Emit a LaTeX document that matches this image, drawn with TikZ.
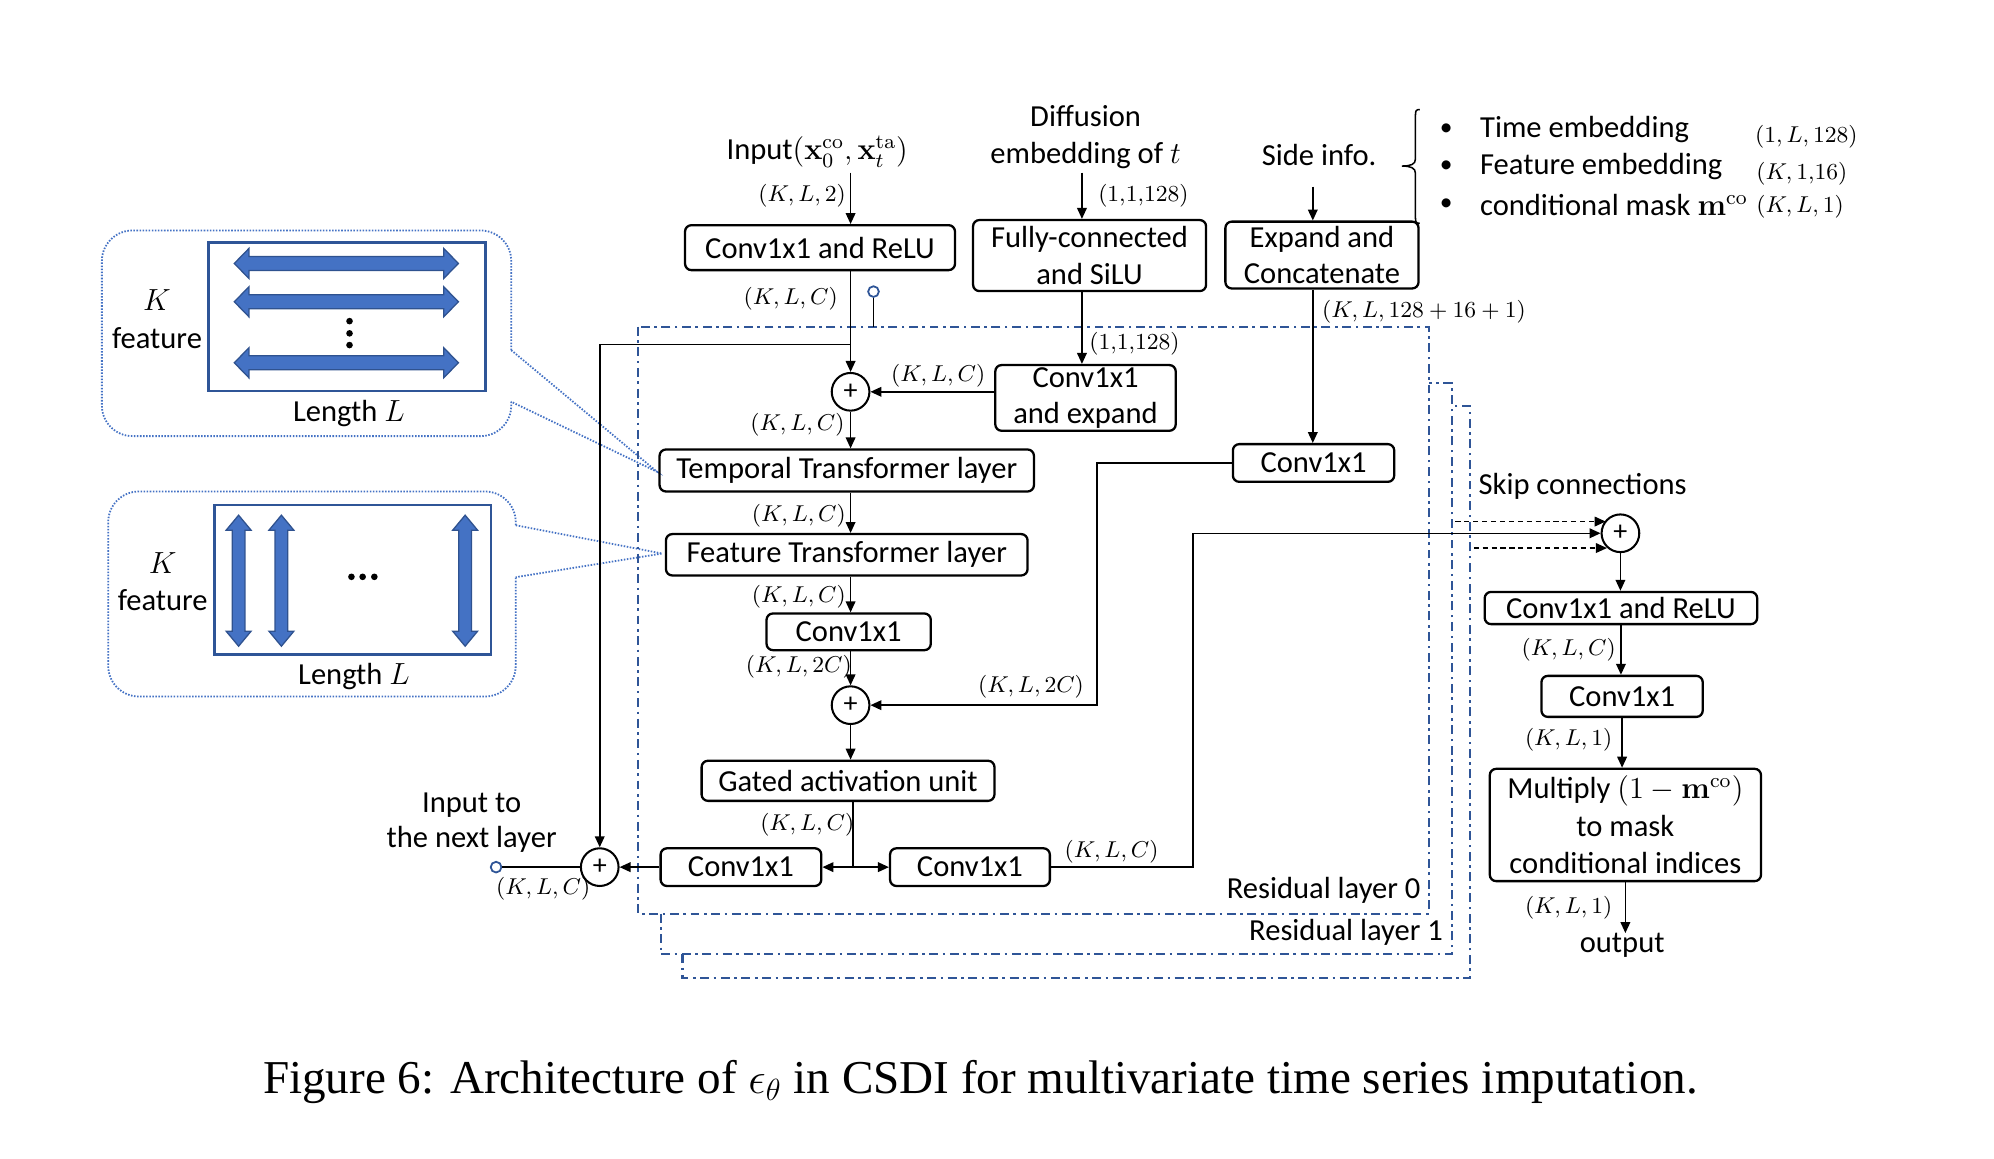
\documentclass[tikz,border=0pt]{standalone}
\usepackage[no-math]{fontspec}
\setmainfont{Carlito}
\newfontfamily\capfont{Liberation Serif}
\usetikzlibrary{arrows.meta}
\definecolor{frameblue}{HTML}{2F5597}
\definecolor{arrfill}{HTML}{4472C4}
\definecolor{arrline}{HTML}{2F528F}
\tikzset{
  box/.style={draw, line width=0.9pt, rounded corners=2.5pt, inner sep=0pt, align=center},
  dim/.style={font=\fontsize{9}{10}\selectfont, inner sep=0pt},
  txt/.style={inner sep=0pt, align=center},
  conn/.style={line width=0.6pt},
  arr/.style={conn, -{Triangle[length=4.3pt,width=3.8pt]}},
  skiparr/.style={line width=0.5pt, dash pattern=on 2pt off 1.5pt, -{Triangle[length=4.3pt,width=3.8pt]}},
  plus/.style={draw, circle, line width=0.8pt, minimum size=14.8pt, inner sep=0pt, font=\fontsize{11}{11}\selectfont},
  rframe/.style={draw=frameblue, line width=0.8pt, dash pattern=on 3.5pt off 1.8pt on 1pt off 1.8pt},
  callout/.style={draw=arrfill, line width=0.7pt, dash pattern=on 0.6pt off 0.6pt},
  innerbox/.style={draw=frameblue, line width=1pt},
  fatarrow/.style={fill=arrfill, draw=arrline, line width=0.5pt},
  port/.style={draw=frameblue, circle, line width=0.7pt, minimum size=4.2pt, inner sep=0pt},
  bullet/.style={inner sep=0pt, font=\fontsize{10}{10}\selectfont}
}
\begin{document}
\begin{tikzpicture}[x=0.5pt, y=-0.5pt, font=\fontsize{12}{14}\selectfont]
\useasboundingbox (0,0) rectangle (1566,910);

% ---------- left panels ----------
\draw[callout, rounded corners=12pt] (401.5,275) -- (401.5,181) -- (80,181) -- (80,342.5) -- (401.5,342.5) -- (401.5,315.5);
\draw[callout] (401.5,275) -- (516,370.5) -- (401.5,315.5);
\draw[innerbox] (163.9,190.4) rectangle (381.2,307.2);
\foreach \c in {206.9,237,284.9}
  \filldraw[fatarrow] (184,\c) -- (195.5,\c-11.8) -- (195.5,\c-5.5) -- (348.5,\c-5.5) -- (348.5,\c-11.8) -- (360,\c) -- (348.5,\c+11.8) -- (348.5,\c+5.5) -- (195.5,\c+5.5) -- (195.5,\c+11.8) -- cycle;
\foreach \d in {252.2,261.8,271} \fill (274.5,\d) circle[radius=1.3pt];
\node[txt] (k1) at (123.3,235.7) {$K$};
\node[txt] (f1) at (123.3,265.5) {feature};
\node[txt] (len1) at (274,325) {Length $L$};

\draw[callout, rounded corners=12pt] (405,412.5) -- (405,386) -- (85,386) -- (85,547) -- (405,547) -- (405,453.3);
\draw[callout] (405,412.5) -- (520,434.7) -- (405,453.3);
\draw[innerbox] (168.4,396.7) rectangle (385.5,514);
\foreach \c in {187.4,221,365.3}
  \filldraw[fatarrow] (\c,404.6) -- (\c+9.8,416.4) -- (\c+5,416.4) -- (\c+5,495.7) -- (\c+9.8,495.7) -- (\c,507.5) -- (\c-9.8,495.7) -- (\c-5,495.7) -- (\c-5,416.4) -- (\c-9.8,416.4) -- cycle;
\foreach \d in {276,284.8,294} \fill (\d,453) circle[radius=1.3pt];
\node[txt] (k2) at (127.8,442.5) {$K$};
\node[txt] (f2) at (127.8,471.3) {feature};
\node[txt] (len2) at (278,531.5) {Length $L$};

% ---------- residual frames ----------
\draw[rframe] (501,256.6) rectangle (1122,717.5);
\draw[rframe] (518.8,717.5) -- (518.8,749.5) -- (1140,749.5) -- (1140,300.6) -- (1122,300.6);
\draw[rframe] (536,749.5) -- (536,768) -- (1154.5,768) -- (1154.5,319) -- (1140,319);
\node[txt, anchor=east] (rl0) at (1116,699) {Residual layer 0};
\node[txt, anchor=east] (rl1) at (1133.6,732) {Residual layer 1};

% ---------- top inputs ----------
\node[txt] (inp) at (641.8,119) {Input$(\mathbf{x}_0^{\mathrm{co}},\mathbf{x}_t^{\mathrm{ta}})$};
\node[txt, font=\fontsize{12}{14.4}\selectfont] (dif) at (852.6,107.4) {Diffusion\\embedding of $t$};
\node[txt] (si) at (1036,122) {Side info.};
\draw[conn] (1115,86) .. controls (1112,86) and (1111.6,87) .. (1111.6,91) -- (1111.6,125) .. controls (1111.6,129) and (1108,130.4) .. (1101,130.4) .. controls (1108,130.4) and (1111.6,132) .. (1111.6,136) -- (1111.6,170.4) .. controls (1111.6,174.4) and (1112,175.4) .. (1115,175.4);
\node[bullet] (bu1) at (1135.7,102.1) {•};
\node[bullet] (bu2) at (1135.7,130.9) {•};
\node[bullet] (bu3) at (1135.7,161) {•};
\node[txt, anchor=west] (it1) at (1162,102.1) {Time embedding};
\node[txt, anchor=west] (it2) at (1162,130.9) {Feature embedding};
\node[txt, anchor=west] (it3) at (1162,161) {conditional mask $\mathbf{m}^{\mathrm{co}}$};
\node[dim, anchor=west] (dd1) at (1378,107.4) {$(1,L,128)$};
\node[dim, anchor=west] (dd2) at (1379,136.2) {$(K,1{,}16)$};
\node[dim, anchor=west] (dd3) at (1379,162.3) {$(K,L,1)$};

% ---------- boxes ----------
\node[box, minimum width=106pt, minimum height=17.65pt] (cr1) at (644,194.5) {Conv1x1 and ReLU};
\node[box, minimum width=91.5pt, minimum height=27.9pt, font=\fontsize{12}{14.2}\selectfont] (fc) at (855.7,200.7) {Fully-connected\\and SiLU};
\node[box, minimum width=75.85pt, minimum height=26.25pt, font=\fontsize{12}{14.2}\selectfont] (ec) at (1038.2,200.3) {Expand and\\Concatenate};
\node[box, minimum width=70.85pt, minimum height=25.8pt, font=\fontsize{12}{14}\selectfont] (ce) at (852.5,312.5) {Conv1x1\\and expand};
\node[box, minimum width=63.35pt, minimum height=14.8pt] (cc) at (1031.6,363.6) {Conv1x1};
\node[box, minimum width=147pt, minimum height=16.5pt] (tt) at (665,369.5) {Temporal Transformer layer};
\node[box, minimum width=142pt, minimum height=16.25pt] (ft) at (665,435.7) {Feature Transformer layer};
\node[box, minimum width=64.5pt, minimum height=14.4pt] (cm) at (666.5,496.2) {Conv1x1};
\node[box, minimum width=115pt, minimum height=15.75pt] (ga) at (666,613.2) {Gated activation unit};
\node[box, minimum width=63.1pt, minimum height=14.8pt] (cl) at (581.9,681) {Conv1x1};
\node[box, minimum width=62.75pt, minimum height=14.8pt] (crb) at (761.75,681) {Conv1x1};
\node[box, minimum width=107pt, minimum height=12.65pt] (crr) at (1273,477.5) {Conv1x1 and ReLU};
\node[box, minimum width=63.35pt, minimum height=16.1pt] (c2) at (1273.9,546.9) {Conv1x1};
\node[box, minimum width=106.5pt, minimum height=44.1pt, font=\fontsize{12}{14.75}\selectfont] (mu) at (1276.5,647.9) {Multiply $(1-\mathbf{m}^{\mathrm{co}})$\\to mask\\conditional indices};

\node[plus] (p1) at (668,307.7) {+};
\node[plus] (p2) at (668,553.8) {+};
\node[plus] (p3) at (471,681) {+};
\node[plus] (p4) at (1272.6,418.8) {+};
\node[port] (o1) at (686,229) {};
\node[port] (o2) at (389.6,681) {};

\node[txt] (nxt) at (370.4,646.2) {Input to\\the next layer};
\node[txt, anchor=west] (skp) at (1160.8,382) {Skip connections};
\node[txt] (out) at (1274,742.7) {output};

% ---------- connectors ----------
\coordinate (dx) at (849.7,135.6);
\coordinate (ix) at (668,135.6);
\coordinate (sx) at (1031,146.6);
\draw[arr] (ix) -- (ix |- cr1.north);
\draw[arr] (dx) -- (dx |- fc.north);
\draw[arr] (sx) -- (sx |- ec.north);
\draw[arr] (p1 |- cr1.south) -- (p1);
\draw[arr] (dx |- fc.south) -- (dx |- ce.north);
\draw[arr] (ce.west |- p1) -- (p1);
\draw[arr] (p1) -- (p1 |- tt.north);
\draw[arr] (p1 |- tt.south) -- (p1 |- ft.north);
\draw[arr] (p1 |- ft.south) -- (p1 |- cm.north);
\draw[arr] (p2 |- cm.south) -- (p2);
\draw[arr] (sx |- ec.south) -- (sx |- cc.north);
\coordinate (cb) at (861.7,363.6);
\draw[arr] (cc.west) -- (cb) |- (p2);
\draw[arr] (p2) -- (p2 |- ga.north);
\coordinate (sp) at (670,681);
\draw[conn] (sp |- ga.south) -- (sp);
\draw[arr] (sp) -- (cl.east);
\draw[arr] (sp) -- (crb.west);
\draw[arr] (cl.west) -- (p3);
\draw[conn] (p3) -- (o2);
\coordinate (br) at (668,270.5);
\draw[arr] (br) -| (p3.north);
\coordinate (o1e) at (686,256.6);
\draw[conn] (o1) -- (o1e);
\coordinate (sk) at (937,681);
\draw[arr] (crb.east) -- (sk) |- (p4);
\coordinate (s1) at (1143,409.6);
\coordinate (s1e) at (1261,409.6);
\coordinate (s2) at (1157.4,430.4);
\coordinate (s2e) at (1262,430.4);
\draw[skiparr] (s1) -- (s1e);
\draw[skiparr] (s2) -- (s2e);
\draw[arr] (p4) -- (p4 |- crr.north);
\draw[arr] (crr.south) -- (crr.south |- c2.north);
\draw[arr] (c2.south) -- (c2.south |- mu.north);
\draw[arr] (mu.south) -- (mu.south |- out.north);

% ---------- dimension labels ----------
\node[dim] (l1) at (629.9,154) {$(K,L,2)$};
\node[dim] (l2) at (898,154) {$(1{,}1{,}128)$};
\node[dim] (l3) at (621,234.3) {$(K,L,C)$};
\node[dim, anchor=west] (l4) at (1038,244.8) {$(K,L,128+16+1)$};
\node[dim] (l5) at (891,269.7) {$(1{,}1{,}128)$};
\node[dim] (l6) at (736.8,295.4) {$(K,L,C)$};
\node[dim] (l7) at (626.3,333.9) {$(K,L,C)$};
\node[dim] (l8) at (627.4,405) {$(K,L,C)$};
\node[dim] (l9) at (627.4,468.7) {$(K,L,C)$};
\node[dim] (l10) at (627.4,523.7) {$(K,L,2C)$};
\node[dim] (l11) at (809.7,539.4) {$(K,L,2C)$};
\node[dim] (l12) at (634,648) {$(K,L,C)$};
\node[dim] (l13) at (426.6,697.8) {$(K,L,C)$};
\node[dim] (l14) at (873,669) {$(K,L,C)$};
\node[dim] (l15) at (1232,510.6) {$(K,L,C)$};
\node[dim] (l16) at (1232,581.3) {$(K,L,1)$};
\node[dim] (l17) at (1232,713.2) {$(K,L,1)$};

% ---------- caption ----------
\node[inner sep=0pt, font=\capfont\fontsize{18.5}{22}\selectfont] (cap) at (770,850) {Figure 6: Architecture of $\epsilon_\theta$ in CSDI for multivariate time series imputation.};
\end{tikzpicture}
\end{document}
